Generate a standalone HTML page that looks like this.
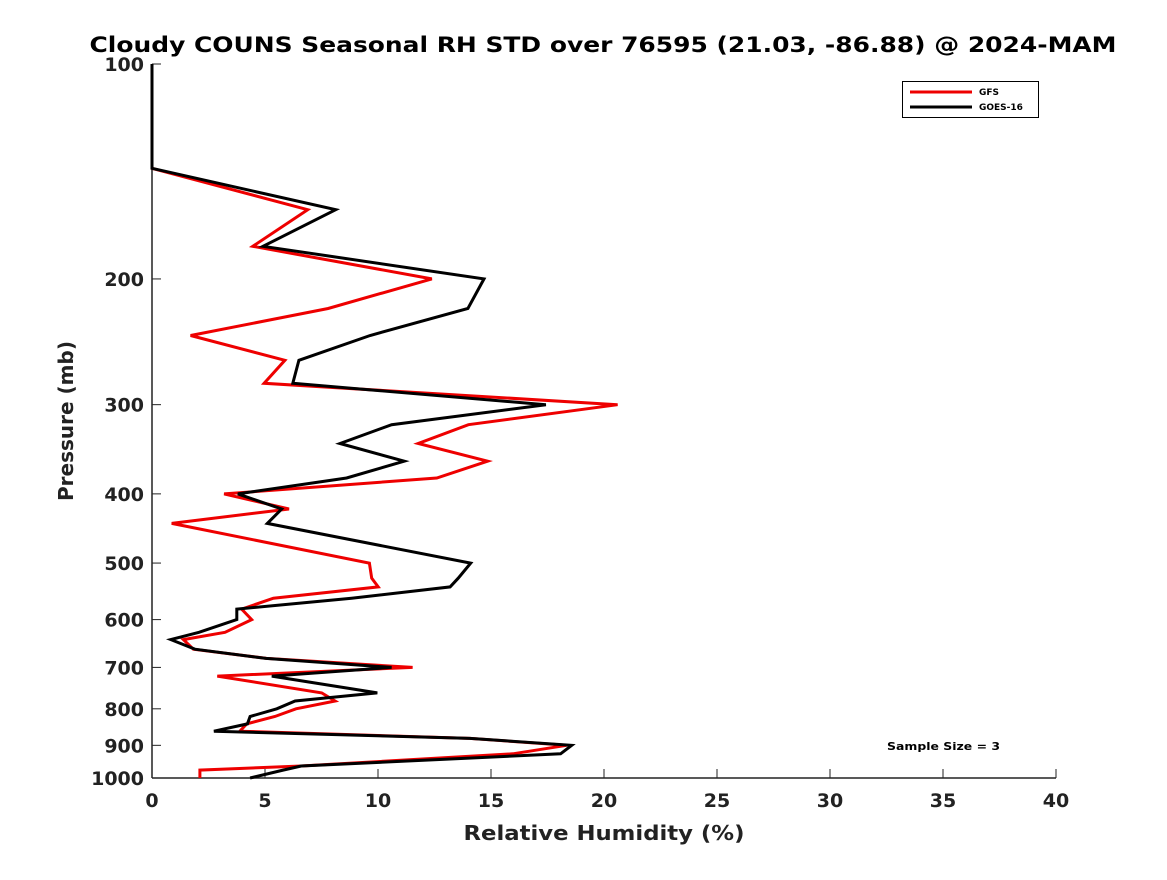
<!DOCTYPE html>
<html><head><meta charset="utf-8"><style>
body{margin:0;background:#fff;}
svg text{font-family:"DejaVu Sans","Liberation Sans",sans-serif;font-weight:bold;fill:#222;}
</style></head><body>
<svg id="chart" width="1167" height="875" xmlns="http://www.w3.org/2000/svg">
<rect width="1167" height="875" fill="#fff"/>
<text x="603" y="52" text-anchor="middle" font-size="21" textLength="1027" lengthAdjust="spacingAndGlyphs" style="fill:#000">Cloudy COUNS Seasonal RH STD over 76595 (21.03, -86.88) @ 2024-MAM</text>
<g id="axes"></g>
<g id="series"></g>
<g>
<rect x="902.5" y="81.5" width="136" height="36" fill="#fff" stroke="#000" stroke-width="1"/>
<line x1="910" y1="92" x2="972" y2="92" stroke="#e00" stroke-width="3"/>
<text x="979" y="95" font-size="9" style="fill:#000">GFS</text>
<line x1="910" y1="107" x2="972" y2="107" stroke="#000" stroke-width="3"/>
<text x="979" y="110" font-size="9" style="fill:#000">GOES-16</text>
</g>
<text x="887" y="750" font-size="11" textLength="113" lengthAdjust="spacingAndGlyphs" style="fill:#000">Sample Size = 3</text>
<text x="604" y="840" text-anchor="middle" font-size="20" textLength="281" lengthAdjust="spacingAndGlyphs">Relative Humidity (%)</text>
<text transform="translate(73,421) rotate(-90)" text-anchor="middle" font-size="20">Pressure (mb)</text>
</svg>
<script>
const pressures=[100,140,160,180,200,220,240,260,280,300,320,340,360,380,400,420,440,500,525,540,560,580,600,625,640,660,680,700,720,760,780,800,820,840,860,880,900,925,962,975,1000];
const gfsValues=[0,0,6.89,4.46,12.38,7.79,1.71,5.88,4.96,20.6,14.0,11.78,14.85,12.6,3.19,6.06,0.87,9.62,9.72,10.01,5.37,3.97,4.41,3.23,1.39,1.83,5.07,11.53,2.89,7.51,8.1,6.37,5.44,4.19,3.89,14.07,18.35,15.97,6.6,2.12,2.12];
const goesValues=[0,0,8.13,4.91,14.69,13.98,9.65,6.5,6.23,17.43,10.6,8.32,11.16,8.61,3.8,5.74,5.1,14.1,13.55,13.19,8.83,3.75,3.75,2.08,0.83,1.9,5.04,10.6,5.3,9.97,6.33,5.52,4.34,4.22,2.74,14.07,18.57,18.08,6.6,5.8,4.34];
const xTicks=[0,5,10,15,20,25,30,35,40];
const yTicks=[100,200,300,400,500,600,700,800,900,1000];
const X0=152,X1=1056,Y0=64,Y1=778;
function xs(v){return X0+(v-0)/(40-0)*(X1-X0);}
function ys(p){return Y0+(Math.log10(p)-2)*(Y1-Y0);}
const NS="http://www.w3.org/2000/svg";
const axes=document.getElementById('axes');
function mk(tag,attrs,parent){const e=document.createElementNS(NS,tag);for(const k in attrs)e.setAttribute(k,attrs[k]);parent.appendChild(e);return e;}
const yl=mk('line',{x1:X0,y1:Y0,x2:X0,y2:Y1,stroke:'#222','stroke-width':1.5},axes);


const xl=mk('line',{x1:X0,y1:Y1,x2:X1,y2:Y1,stroke:'#222','stroke-width':1.5},axes);


xTicks.forEach(t=>{
  const tk=mk('line',{x1:xs(t),y1:Y1,x2:xs(t),y2:Y1-9,stroke:'#222','stroke-width':1},axes);
  
  
  const tx=mk('text',{x:xs(t),y:Y1+29,'text-anchor':'middle','font-size':19},axes);
  tx.textContent=t;
  
  
});
yTicks.forEach(t=>{
  const tk=mk('line',{x1:X0,y1:ys(t),x2:X0+9,y2:ys(t),stroke:'#222','stroke-width':1},axes);
  
  
  const tx=mk('text',{x:X0-8,y:ys(t)+7,'text-anchor':'end','font-size':19},axes);
  tx.textContent=t;
  
  
});
const sg=document.getElementById('series');
function line(vals,color,name){
  const pts=vals.map((v,i)=>xs(v).toFixed(1)+','+ys(pressures[i]).toFixed(1)).join(' ');
  const pl=mk('polyline',{points:pts,fill:'none',stroke:color,'stroke-width':3,'stroke-linejoin':'miter'},sg);
  
  
}
line(gfsValues,'#e00','gfs-line');
line(goesValues,'#000','goes16-line');
</script>
</body></html>
